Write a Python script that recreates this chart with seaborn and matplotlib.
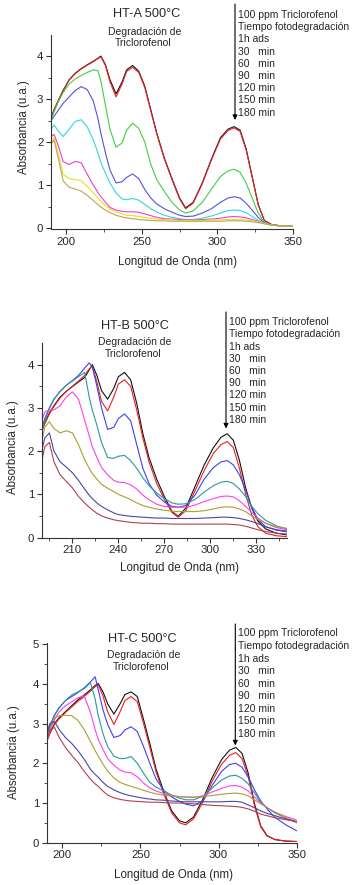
import numpy as np
import pandas as pd
import matplotlib
matplotlib.use('Agg')
import matplotlib.pyplot as plt
import seaborn as sns

# wavelength grid (nm) shared by every spectrum
wl = [190, 192, 195, 198, 202, 206, 210, 214, 218, 221, 223, 226, 229, 233, 237,
      240, 244, 248, 252, 256, 260, 265, 270, 275, 279, 284, 290, 296, 302, 307,
      311, 315, 319, 323, 327, 331, 336, 343, 350]

curve_names = ['100 ppm', '1h ads', '30 min', '60 min', '90 min', '120 min', '150 min', '180 min']

legend_lines = ['100 ppm Triclorofenol', 'Tiempo fotodegradación', '1h ads', '30   min',
                '60   min', '90   min', '120 min', '150 min', '180 min']

# HT-A 500°C
a_100 = [2.55, 2.75, 2.98, 3.2, 3.45, 3.6, 3.71, 3.8, 3.88, 3.95, 4.0, 3.8, 3.45, 3.12, 3.4,
         3.68, 3.78, 3.65, 3.3, 2.75, 2.2, 1.62, 1.15, 0.7, 0.47, 0.6, 1.05, 1.6, 2.1, 2.3,
         2.36, 2.28, 1.85, 1.2, 0.55, 0.18, 0.08, 0.05, 0.04]
a_1h = [2.53, 2.74, 2.97, 3.19, 3.44, 3.59, 3.7, 3.79, 3.87, 3.94, 3.98, 3.78, 3.4, 3.05, 3.35,
        3.64, 3.74, 3.62, 3.27, 2.72, 2.18, 1.6, 1.13, 0.68, 0.45, 0.58, 1.03, 1.58, 2.07, 2.27,
        2.33, 2.25, 1.82, 1.18, 0.54, 0.18, 0.08, 0.05, 0.04]
a_30 = [2.52, 2.7, 2.95, 3.15, 3.35, 3.47, 3.55, 3.62, 3.68, 3.66, 3.42, 2.85, 2.3, 1.88, 1.98,
        2.28, 2.44, 2.32, 2.0, 1.48, 1.12, 0.85, 0.6, 0.42, 0.35, 0.4, 0.6, 0.9, 1.2, 1.33,
        1.37, 1.3, 1.05, 0.7, 0.35, 0.14, 0.07, 0.05, 0.04]
a_60 = [2.5, 2.6, 2.75, 2.9, 3.05, 3.2, 3.29, 3.22, 2.95, 2.55, 2.2, 1.75, 1.35, 1.05, 1.08,
        1.18, 1.26, 1.15, 0.9, 0.7, 0.56, 0.45, 0.37, 0.3, 0.27, 0.28, 0.35, 0.45, 0.6, 0.7,
        0.73, 0.7, 0.58, 0.42, 0.25, 0.12, 0.07, 0.05, 0.04]
a_90 = [2.3, 2.4, 2.25, 2.13, 2.3, 2.48, 2.52, 2.35, 2.05, 1.75, 1.52, 1.28, 1.05, 0.82, 0.68,
        0.66, 0.69, 0.65, 0.55, 0.45, 0.37, 0.3, 0.25, 0.22, 0.2, 0.2, 0.23, 0.28, 0.35, 0.41,
        0.42, 0.41, 0.36, 0.27, 0.18, 0.11, 0.07, 0.05, 0.04]
a_120 = [2.13, 2.18, 1.9, 1.55, 1.48, 1.55, 1.52, 1.25, 1.0, 0.83, 0.73, 0.6, 0.48, 0.42, 0.39,
         0.38, 0.38, 0.37, 0.33, 0.29, 0.25, 0.22, 0.21, 0.2, 0.19, 0.19, 0.2, 0.21, 0.23, 0.26,
         0.27, 0.26, 0.24, 0.2, 0.16, 0.11, 0.07, 0.05, 0.04]
a_150 = [2.0, 2.1, 1.7, 1.25, 1.15, 1.13, 1.1, 0.97, 0.82, 0.7, 0.62, 0.52, 0.44, 0.38, 0.33,
         0.3, 0.29, 0.27, 0.25, 0.23, 0.21, 0.2, 0.19, 0.18, 0.18, 0.18, 0.18, 0.19, 0.19, 0.2,
         0.2, 0.2, 0.19, 0.17, 0.15, 0.11, 0.07, 0.05, 0.04]
a_180 = [1.95, 2.05, 1.6, 1.1, 0.95, 0.91, 0.86, 0.76, 0.64, 0.55, 0.49, 0.42, 0.36, 0.3, 0.26,
         0.24, 0.22, 0.2, 0.19, 0.18, 0.17, 0.17, 0.16, 0.16, 0.16, 0.16, 0.16, 0.16, 0.16, 0.17,
         0.17, 0.17, 0.16, 0.15, 0.13, 0.1, 0.07, 0.05, 0.04]

# HT-B 500°C
b_100 = [2.48, 2.65, 2.88, 3.05, 3.25, 3.38, 3.49, 3.6, 3.7, 3.88, 4.0, 3.75, 3.4, 3.2, 3.45,
         3.72, 3.82, 3.65, 3.1, 2.4, 1.85, 1.35, 0.95, 0.6, 0.49, 0.68, 1.18, 1.68, 2.08, 2.32,
         2.4, 2.25, 1.78, 1.15, 0.68, 0.38, 0.2, 0.1, 0.06]
b_1h = [2.45, 2.63, 2.86, 3.03, 3.23, 3.38, 3.5, 3.62, 3.75, 3.9, 3.96, 3.6, 3.15, 2.93, 3.25,
        3.55, 3.65, 3.5, 2.95, 2.3, 1.75, 1.25, 0.88, 0.58, 0.47, 0.62, 1.08, 1.55, 1.95, 2.15,
        2.22, 2.08, 1.6, 1.0, 0.52, 0.25, 0.1, 0.04, 0.02]
b_30 = [2.5, 2.75, 3.0, 3.2, 3.38, 3.52, 3.63, 3.75, 3.92, 4.04, 3.95, 3.5, 3.0, 2.5, 2.55,
        2.75, 2.86, 2.7, 2.15, 1.6, 1.25, 0.98, 0.82, 0.72, 0.7, 0.74, 0.98, 1.35, 1.62, 1.75,
        1.78, 1.68, 1.45, 1.1, 0.7, 0.42, 0.25, 0.17, 0.13]
b_60 = [2.45, 2.7, 2.98, 3.2, 3.38, 3.52, 3.62, 3.72, 3.82, 3.25, 2.95, 2.6, 2.2, 1.85, 1.83,
        1.88, 1.9, 1.78, 1.6, 1.38, 1.2, 1.03, 0.9, 0.8, 0.77, 0.78, 0.88, 1.05, 1.2, 1.28,
        1.3, 1.25, 1.12, 0.95, 0.72, 0.55, 0.4, 0.27, 0.2]
b_90 = [2.7, 2.9, 2.95, 2.95, 3.05, 3.25, 3.37, 3.2, 2.72, 2.35, 2.1, 1.85, 1.62, 1.45, 1.32,
        1.28, 1.27, 1.22, 1.12, 0.98, 0.87, 0.77, 0.72, 0.7, 0.7, 0.7, 0.75, 0.83, 0.9, 0.95,
        0.96, 0.94, 0.85, 0.72, 0.58, 0.45, 0.33, 0.23, 0.18]
b_120 = [2.2, 2.55, 2.68, 2.52, 2.42, 2.47, 2.42, 2.15, 1.8, 1.6, 1.48, 1.35, 1.23, 1.14, 1.06,
         1.0, 0.94, 0.88, 0.8, 0.74, 0.7, 0.66, 0.63, 0.61, 0.6, 0.6, 0.6, 0.62, 0.66, 0.7,
         0.71, 0.7, 0.66, 0.6, 0.5, 0.42, 0.33, 0.25, 0.21]
b_150 = [2.0, 2.3, 2.42, 2.0, 1.75, 1.63, 1.5, 1.32, 1.12, 0.98, 0.9, 0.8, 0.72, 0.64, 0.57,
         0.53, 0.51, 0.49, 0.48, 0.47, 0.46, 0.45, 0.45, 0.44, 0.44, 0.44, 0.44, 0.45, 0.46, 0.47,
         0.47, 0.46, 0.44, 0.41, 0.37, 0.32, 0.25, 0.18, 0.15]
b_180 = [1.75, 2.1, 2.2, 1.75, 1.45, 1.3, 1.15, 0.95, 0.8, 0.7, 0.64, 0.56, 0.5, 0.45, 0.41,
         0.39, 0.37, 0.35, 0.34, 0.33, 0.33, 0.32, 0.32, 0.31, 0.31, 0.31, 0.31, 0.31, 0.31, 0.31,
         0.31, 0.3, 0.29, 0.26, 0.22, 0.18, 0.14, 0.1, 0.08]

# HT-C 500°C
c_100 = [2.55, 2.75, 3.0, 3.15, 3.3, 3.45, 3.6, 3.72, 3.85, 3.96, 4.01, 3.8, 3.5, 3.24, 3.5,
         3.73, 3.8, 3.68, 3.1, 2.5, 1.85, 1.28, 0.8, 0.55, 0.5, 0.65, 1.1, 1.65, 2.1, 2.33,
         2.4, 2.25, 1.75, 0.98, 0.42, 0.18, 0.08, 0.04, 0.03]
c_1h = [2.55, 2.75, 2.98, 3.12, 3.28, 3.42, 3.56, 3.68, 3.82, 3.93, 3.98, 3.7, 3.3, 2.98, 3.3,
        3.58, 3.68, 3.55, 3.0, 2.4, 1.78, 1.22, 0.75, 0.5, 0.45, 0.6, 1.03, 1.56, 1.98, 2.2,
        2.27, 2.12, 1.66, 0.93, 0.4, 0.17, 0.08, 0.04, 0.03]
c_30 = [2.65, 2.95, 3.22, 3.4, 3.58, 3.68, 3.78, 3.9, 4.05, 4.18, 3.85, 3.35, 2.98, 2.65, 2.7,
        2.84, 2.92, 2.8, 2.42, 2.0, 1.6, 1.32, 1.15, 1.04, 0.97, 0.93, 1.06, 1.45, 1.8, 1.97,
        2.0, 1.9, 1.65, 1.33, 1.05, 0.85, 0.64, 0.45, 0.3]
c_60 = [2.65, 2.9, 3.2, 3.4, 3.58, 3.72, 3.8, 3.88, 4.03, 3.62, 3.2, 2.75, 2.42, 2.18, 2.12,
        2.12, 2.17, 2.0, 1.75, 1.52, 1.4, 1.3, 1.2, 1.12, 1.08, 1.08, 1.17, 1.38, 1.58, 1.68,
        1.7, 1.62, 1.48, 1.25, 1.02, 0.88, 0.75, 0.62, 0.52]
c_90 = [2.55, 2.8, 3.1, 3.3, 3.45, 3.55, 3.65, 3.7, 3.28, 2.85, 2.6, 2.35, 2.12, 1.95, 1.83,
        1.78, 1.76, 1.66, 1.5, 1.38, 1.3, 1.24, 1.19, 1.16, 1.15, 1.14, 1.18, 1.28, 1.37, 1.43,
        1.44, 1.4, 1.3, 1.15, 1.0, 0.88, 0.77, 0.66, 0.57]
c_120 = [2.55, 2.85, 3.15, 3.2, 3.21, 3.2, 3.08, 2.85, 2.55, 2.32, 2.18, 1.98, 1.8, 1.63, 1.52,
         1.47, 1.42, 1.37, 1.32, 1.27, 1.23, 1.2, 1.17, 1.16, 1.15, 1.15, 1.16, 1.19, 1.22, 1.24,
         1.25, 1.23, 1.18, 1.08, 0.98, 0.88, 0.77, 0.63, 0.5]
c_150 = [2.75, 3.0, 3.05, 2.85, 2.65, 2.5, 2.32, 2.1, 1.85, 1.72, 1.65, 1.52, 1.42, 1.33, 1.26,
         1.22, 1.18, 1.15, 1.12, 1.1, 1.08, 1.07, 1.05, 1.04, 1.03, 1.03, 1.03, 1.03, 1.03, 1.04,
         1.04, 1.02, 0.95, 0.88, 0.8, 0.74, 0.68, 0.6, 0.53]
c_180 = [2.55, 2.85, 2.9, 2.65, 2.4, 2.2, 2.02, 1.8, 1.6, 1.48, 1.42, 1.3, 1.2, 1.13, 1.09,
         1.07, 1.05, 1.04, 1.03, 1.02, 1.02, 1.01, 1.0, 1.0, 0.99, 0.98, 0.96, 0.94, 0.93, 0.92,
         0.91, 0.89, 0.85, 0.79, 0.72, 0.68, 0.63, 0.58, 0.53]

colors_a = ['#111111', '#e8242c', '#44cc44', '#5252e0', '#33d6e0', '#f03cd0', '#e8e020', '#b8a850']
colors_bc = ['#111111', '#e82020', '#4040f0', '#2a9a9a', '#ff40e8', '#a8a030', '#4848a8', '#b04050']

sns.set_style('ticks')
plt.rcParams['font.family'] = ['Liberation Sans', 'DejaVu Sans']

W, H = 359, 885
fig = plt.figure(figsize=(W / 100, H / 100), dpi=100)


def fx(px):
    return px / W


def fy(py):
    return 1 - py / H


def panel(box, series, colors, ylim, xmaj, xmin, ymaj, title, title_xy, sub_xy,
          leg_x, leg_y0, leg_dy, arrow, ylab_xy, xlab_xy):
    left, top, right, bottom = box
    ax = fig.add_axes([fx(left), fy(bottom), fx(right - left), (bottom - top) / H])
    df = pd.DataFrame({
        'wl': wl * len(series),
        'absorbancia': sum(series, []),
        'curva': np.repeat(curve_names, len(wl)),
    })
    sns.lineplot(data=df, x='wl', y='absorbancia', hue='curva', hue_order=curve_names,
                 palette=colors, legend=False, lw=0.8, estimator=None, sort=False, ax=ax)
    ax.set_xlim(190, 350)
    ax.set_ylim(*ylim)
    ax.set_xticks(xmaj)
    ax.set_xticks(xmin, minor=True)
    ax.set_yticks(ymaj)
    ax.set_yticks(np.arange(0.5, ylim[1], 1.0), minor=True)
    sns.despine(ax=ax)
    for s in ['left', 'bottom']:
        ax.spines[s].set_linewidth(0.8)
        ax.spines[s].set_color('#333333')
    ax.tick_params(which='major', direction='out', length=3.5, width=0.8, labelsize=8.2,
                   pad=2, color='#333333')
    ax.tick_params(which='minor', direction='out', length=2, width=0.6, color='#333333')
    ax.set_xlabel('Longitud de Onda (nm)', fontsize=8.3)
    ax.set_ylabel('Absorbancia (u.a.)', fontsize=8.3)
    ax.xaxis.set_label_coords((xlab_xy[0] - left) / (right - left),
                              (bottom - xlab_xy[1]) / (bottom - top))
    ax.yaxis.set_label_coords((ylab_xy[0] - left) / (right - left),
                              (bottom - ylab_xy[1]) / (bottom - top))
    ax.xaxis.label.set_va('center')
    ax.yaxis.label.set_va('center')

    fig.text(fx(title_xy[0]), fy(title_xy[1]), title, ha='center', va='center', fontsize=9.2)
    fig.text(fx(sub_xy[0]), fy(sub_xy[1]), 'Degradación de', ha='center', va='center',
             fontsize=7.5)
    fig.text(fx(sub_xy[0] - 2), fy(sub_xy[1] + 11.5), 'Triclorofenol', ha='center',
             va='center', fontsize=7.5)
    for i, t in enumerate(legend_lines):
        fig.text(fx(leg_x), fy(leg_y0 + i * leg_dy), t, ha='left', va='center', fontsize=7.5)
    ax_x, ay0, ay1 = arrow
    ax.annotate('', xy=(fx(ax_x), fy(ay1)), xytext=(fx(ax_x), fy(ay0)),
                xycoords='figure fraction', textcoords='figure fraction',
                arrowprops=dict(arrowstyle='-|>', color='black', lw=0.8, mutation_scale=7,
                                shrinkA=0, shrinkB=0),
                annotation_clip=False)
    return ax


panel((51, 35, 293, 229), [a_100, a_1h, a_30, a_60, a_90, a_120, a_150, a_180], colors_a,
      (-0.02, 4.49), [200, 250, 300, 350], [225, 275, 325], [0, 1, 2, 3, 4],
      'HT-A 500°C', (147, 14), (145, 32), 238.3, 15.0, 12.2, (235, 4, 120),
      (24, 127), (177, 262))

panel((41.7, 343, 287, 537.5), [b_100, b_1h, b_30, b_60, b_90, b_120, b_150, b_180], colors_bc,
      (0, 4.5), [210, 240, 270, 300, 330], [195, 225, 255, 285, 315, 345], [0, 1, 2, 3, 4],
      'HT-B 500°C', (135, 326), (135, 342.3), 229.3, 322.3, 12.2, (226, 312, 428.5),
      (13, 447), (179, 567.7))

panel((46.7, 643, 296.7, 842.7), [c_100, c_1h, c_30, c_60, c_90, c_120, c_150, c_180], colors_bc,
      (0, 5.03), [200, 250, 300, 350], [225, 275, 325], [0, 1, 2, 3, 4, 5],
      'HT-C 500°C', (142.7, 639), (143.5, 655), 238.3, 633.3, 12.6, (235.3, 624, 745.5),
      (14.5, 752), (173, 875))

fig.savefig('out.png', dpi=100, facecolor='white')
